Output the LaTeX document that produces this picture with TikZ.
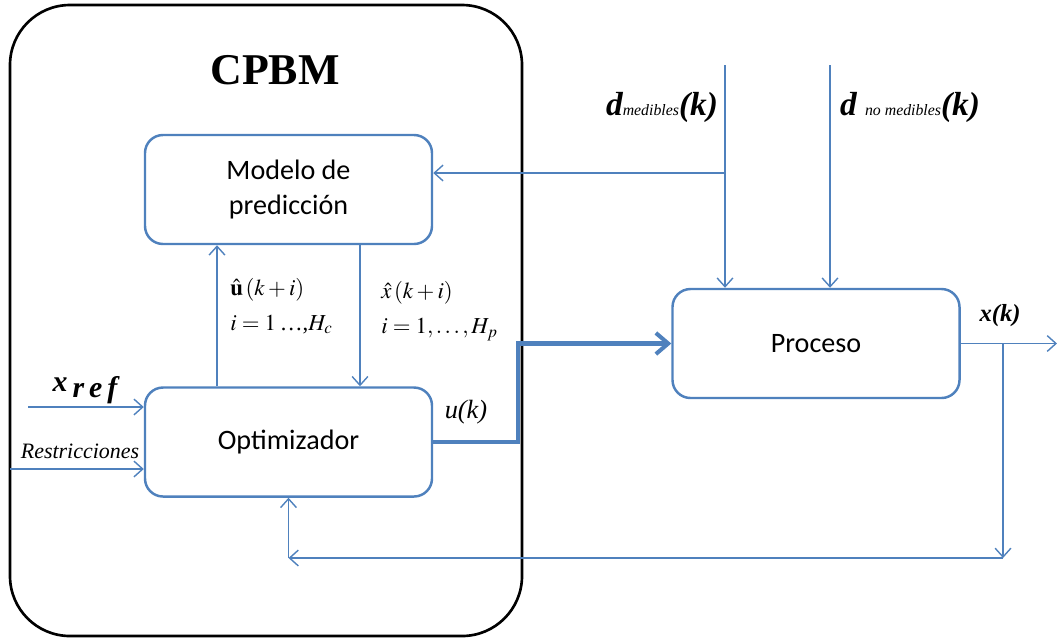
\documentclass[tikz,border=0pt]{standalone}
\usepackage{amsmath}
\usepackage{amssymb}
\usepackage{mathptmx}
\usepackage{fontspec}
\setmainfont{Liberation Serif}
\newfontfamily\calibri{Carlito}
\usetikzlibrary{positioning,arrows.meta}
\definecolor{azul}{HTML}{4F81BD}

\begin{document}
\begin{tikzpicture}
[x=0.2mm,y=-0.2mm,align=center,node distance=50.5mm]
\tikzstyle{bloque}=[draw=azul,line width=1.4pt,rounded corners=3.6mm,minimum width=57.4mm,minimum height=21.8mm,font=\calibri\fontsize{16}{20}\selectfont,fill=white]
\tikzstyle{flecha}=[draw=azul,line width=0.8pt,-{Straight Barb[length=5pt,width=9pt]}]
\tikzstyle{gruesa}=[draw=azul,line width=2.3pt,-{Straight Barb[length=7pt,width=12pt]}]
\tikzstyle{etiq}=[inner sep=0pt]
\tikzstyle{formula}=[inner sep=0pt,anchor=west,align=left,font=\fontsize{13}{20}\selectfont]

\useasboundingbox (0,0) rectangle (1057,641);
\draw [line width=1.5pt,rounded corners=12mm] (10,5) rectangle (522,636);

\draw node [bloque] (modelo) at (288.5,189.5) {Modelo de\\predicción};
\draw node [bloque,below of=modelo] (optim) {Optimizador};
\draw node [bloque] (proceso) at (816,343.5) {Proceso};

\draw node [etiq] (cpbm) at (275,70) {\bfseries\fontsize{25}{25}\selectfont CPBM};
\draw node [etiq] (dmed) at (662,107) {\bfseries\itshape\fontsize{19}{19}\selectfont d{\mdseries\fontsize{9}{9}\selectfont medibles}(k)};
\draw node [etiq] (dnomed) at (910,107) {\bfseries\itshape\fontsize{19}{19}\selectfont d {\mdseries\fontsize{9}{9}\selectfont no medibles}(k)};
\draw node [etiq] (xk) at (1000,316) {\bfseries\itshape\fontsize{14}{14}\selectfont x(k)};
\draw node [etiq] (uk) at (466,412) {\itshape\fontsize{15}{15}\selectfont u(k)};
\draw node [etiq] (xref) at (85,390) {\bfseries\itshape\fontsize{17}{17}\selectfont x\,\raisebox{-0.45ex}{r\,e\,f}};
\draw node [etiq] (restr) at (80,451) {\itshape\fontsize{12.5}{12.5}\selectfont Restricciones};
\draw node [formula] (uhat) at (230,306) {$\hat{\mathbf{u}}\left(k+i\right)$\\$i=1$\,{\ldots},$H_{c}$};
\draw node [formula] (xhat) at (381,311) {$\hat{x}\left(k+i\right)$\\$i=1,\ldots,H_{p}$};

\coordinate (dm) at (725,65);
\coordinate (dn) at (830,65);
\coordinate (rama) at (725,173);
\coordinate (cu) at (217,0);
\coordinate (cx) at (360,0);
\coordinate (xr) at (28,407);
\coordinate (rs) at (10,469);
\coordinate (codo) at (518,343.5);
\coordinate (salida) at (1057,343.5);
\coordinate (rama2) at (1003,343.5);
\coordinate (abajo) at (1003,558);
\coordinate (esquina) at (288.5,558);

\draw [flecha] (dm) -- (dm |- proceso.north);
\draw [flecha] (dn) -- (dn |- proceso.north);
\draw [flecha] (rama) -- (rama -| modelo.east);
\draw [flecha] (cu |- optim.north) -- (cu |- modelo.south);
\draw [flecha] (cx |- modelo.south) -- (cx |- optim.north);
\draw [flecha] (xr) -- (xr -| optim.west);
\draw [flecha] (rs) -- (rs -| optim.west);
\draw [gruesa] (optim.east) -| (codo) -- (proceso.west);
\draw [flecha] (proceso.east) -- (salida);
\draw [flecha] (rama2) -- (abajo);
\draw [flecha] (abajo) -- (esquina);
\draw [flecha] (esquina) -- (optim.south);

\end{tikzpicture}
\end{document}
